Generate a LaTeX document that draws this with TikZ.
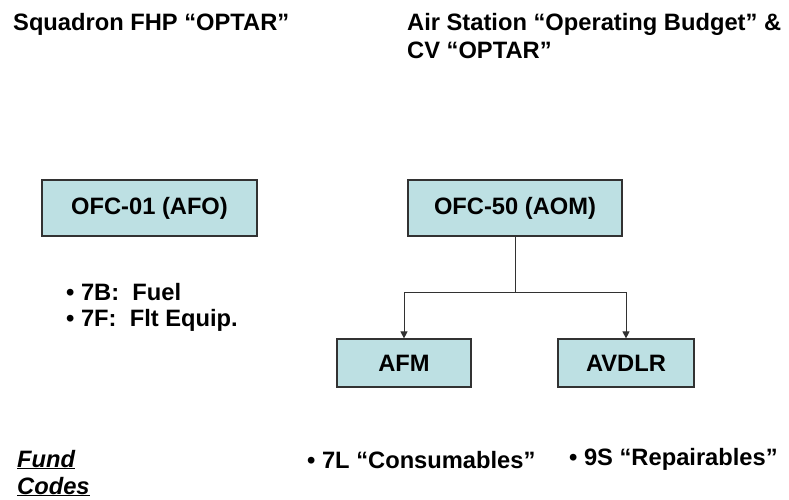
\documentclass[tikz,border=0pt]{standalone}
\usepackage{fontspec}
\setmainfont{Liberation Sans}
\usetikzlibrary{arrows.meta}
\definecolor{boxfill}{RGB}{189,224,227}
\definecolor{boxline}{RGB}{50,50,50}
\begin{document}
\begin{tikzpicture}[x=1bp,y=-1bp,
  every node/.style={inner sep=0pt, font=\fontsize{23.7bp}{28.5bp}\selectfont\bfseries},
  fundbox/.style={draw=boxline, line width=1.2bp, fill=boxfill},
  txt/.style={anchor=base west},
  conn/.style={draw=boxline, line width=1bp},
  arr/.style={conn, -{Triangle[length=7bp,width=7bp]}}]
\useasboundingbox (0,0) rectangle (789,500);
% headers
\node[txt] (h1) at (13,31) {Squadron FHP “OPTAR”};
\node[txt] (h2a) at (407,31) {Air Station “Operating Budget” \&};
\node[txt] (h2b) at (407,59) {CV “OPTAR”};
% boxes
\node[fundbox, minimum width=215bp, minimum height=56bp] (o01) at (149.5,208) {OFC-01 (AFO)};
\node[fundbox, minimum width=214bp, minimum height=56bp] (o50) at (515,208) {OFC-50 (AOM)};
\node[fundbox, minimum width=134bp, minimum height=48bp] (afm) at (404,363) {AFM};
\node[fundbox, minimum width=136bp, minimum height=48bp] (avd) at (626,363) {AVDLR};
% connectors
\draw[conn] (o50.south) -- ++(0,56) coordinate (j);
\draw[arr] (j) -| (afm.north);
\draw[arr] (j) -| (avd.north);
% bullets
\node[txt] (b1) at (66,301) {• 7B:\ \ Fuel};
\node[txt] (b2) at (66,326) {• 7F:\ \ Flt Equip.};
% fund codes
\node[txt] (f1) at (17,467) {\itshape\underline{Fund}};
\node[txt] (f2) at (17,494) {\itshape\underline{Codes}};
\node[txt] (c1) at (307,468) {• 7L “Consumables”};
\node[txt] (c2) at (569,465) {• 9S “Repairables”};
\end{tikzpicture}
\end{document}
